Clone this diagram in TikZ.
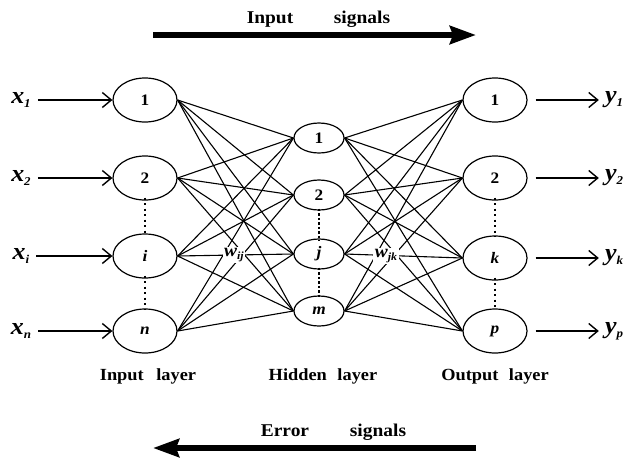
\documentclass[tikz,border=0pt]{standalone}
\usepackage{fontspec}
\setmainfont{Liberation Serif}[FakeStretch=1.08]
\usetikzlibrary{shapes.geometric,arrows.meta}
\newcommand{\lbl}[2]{\fontsize{24}{24}\selectfont\bfseries\itshape #1\raisebox{-4pt}{\fontsize{12}{12}\selectfont #2}}
\newcommand{\wlbl}[2]{\fontsize{18}{18}\selectfont\bfseries\itshape #1\raisebox{-3pt}{\fontsize{11}{11}\selectfont #2}}
\begin{document}
\begin{tikzpicture}[x=1pt,y=-1pt,
  bignode/.style={ellipse,draw,line width=1.2pt,minimum width=64pt,minimum height=44pt,inner sep=0pt,font=\bfseries\fontsize{16}{16}\selectfont},
  hidnode/.style={ellipse,draw,line width=1.2pt,minimum width=50pt,minimum height=30pt,inner sep=0pt,font=\bfseries\fontsize{16}{16}\selectfont},
  conn/.style={line width=1.1pt},
  ioarrow/.style={line width=1.4pt,-{Straight Barb[length=9pt,width=15pt,line width=1.4pt]}},
  bigarrow/.style={line width=6pt,-{Stealth[length=26pt,width=18pt,inset=3pt]}},
  wlabel/.style={fill=white,inner sep=1.5pt},
  toptext/.style={anchor=base,font=\bfseries\fontsize{18}{18}\selectfont},
  laytext/.style={anchor=base,font=\bfseries\fontsize{17}{17}\selectfont},
  lab/.style={inner sep=0pt},
  dotsA/.style={line width=2.4pt,dash pattern=on 2pt off 3.5pt},
  dotsB/.style={line width=1.8pt,dash pattern=on 2.5pt off 2pt}]
\useasboundingbox (0,0) rectangle (634,461);
% input layer
\node[bignode] (i1) at (145,100) {1};
\node[bignode] (i2) at (145,178) {2};
\node[bignode] (ii) at (145,256) {\itshape i};
\node[bignode] (in) at (145,331) {\itshape n};
% hidden layer
\node[hidnode] (h1) at (319,138) {1};
\node[hidnode] (h2) at (319,195) {2};
\node[hidnode] (hj) at (319,254) {\itshape j};
\node[hidnode] (hm) at (319,311) {\itshape m};
% output layer
\node[bignode] (o1) at (495,100) {1};
\node[bignode] (o2) at (495,178) {2};
\node[bignode] (ok) at (495,258) {\itshape k};
\node[bignode] (op) at (495,331) {\itshape p};
% connections
\foreach \a in {i1,i2,ii,in}
  \foreach \b in {h1,h2,hj,hm}
    \draw[conn] (\a.east) -- (\b.west);
\foreach \a in {h1,h2,hj,hm}
  \foreach \b in {o1,o2,ok,op}
    \draw[conn] (\a.east) -- (\b.west);
\node[wlabel] (wij) at (234,255) {\wlbl{w}{ij}};
\node[wlabel] (wjk) at (386,256) {\wlbl{w}{jk}};
% vertical dots
\draw[dotsA] ([yshift=3pt]i2.south) -- ([yshift=-2pt]ii.north);
\draw[dotsA] ([yshift=3pt]ii.south) -- ([yshift=-2pt]in.north);
\draw[dotsA] ([yshift=3pt]o2.south) -- ([yshift=-2pt]ok.north);
\draw[dotsA] ([yshift=3pt]ok.south) -- ([yshift=-2pt]op.north);
\draw[dotsB] ([yshift=2pt]h2.south) -- ([yshift=-2pt]hj.north);
\draw[dotsB] ([yshift=2pt]hj.south) -- ([yshift=-2pt]hm.north);
% inputs
\node[lab] (x1) at (21,100) {\lbl{x}{1}};
\node[lab] (x2) at (21,178) {\lbl{x}{2}};
\node[lab] (xi) at (21,256) {\lbl{x}{i}};
\node[lab] (xn) at (21,331) {\lbl{x}{n}};
\draw[ioarrow] (x1.east) ++(7,0) -- (i1.west);
\draw[ioarrow] (x2.east) ++(7,0) -- (i2.west);
\draw[ioarrow] (xi.east) ++(7,0) -- (ii.west);
\draw[ioarrow] (xn.east) ++(7,0) -- (in.west);
% outputs
\node[lab] (y1) at (614,100) {\lbl{y}{1}};
\node[lab] (y2) at (614,178) {\lbl{y}{2}};
\node[lab] (yk) at (614,258) {\lbl{y}{k}};
\node[lab] (yp) at (614,331) {\lbl{y}{p}};
\draw[ioarrow] (o1.east) ++(8,0) -- ([xshift=-6pt]y1.west);
\draw[ioarrow] (o2.east) ++(8,0) -- ([xshift=-6pt]y2.west);
\draw[ioarrow] (ok.east) ++(8,0) -- ([xshift=-6pt]yk.west);
\draw[ioarrow] (op.east) ++(8,0) -- ([xshift=-6pt]yp.west);
% layer labels
\node[laytext] (li) at (148,380) {Input\hspace{8pt} layer};
\node[laytext] (lh) at (323,380) {Hidden\hspace{6pt} layer};
\node[laytext] (lo) at (495,380) {Output\hspace{6pt} layer};
% signal arrows
\coordinate (tl) at (153,35);
\coordinate (tr) at (476,35);
\coordinate (bl) at (153,448);
\coordinate (br) at (476,448);
\draw[bigarrow] (tl) -- (tr);
\draw[bigarrow] (br) -- (bl);
\node[toptext] (ti) at (270,23) {Input};
\node[toptext] (ts) at (362,23) {signals};
\node[toptext] (be) at (285,436) {Error};
\node[toptext] (bs) at (378,436) {signals};
\end{tikzpicture}
\end{document}
